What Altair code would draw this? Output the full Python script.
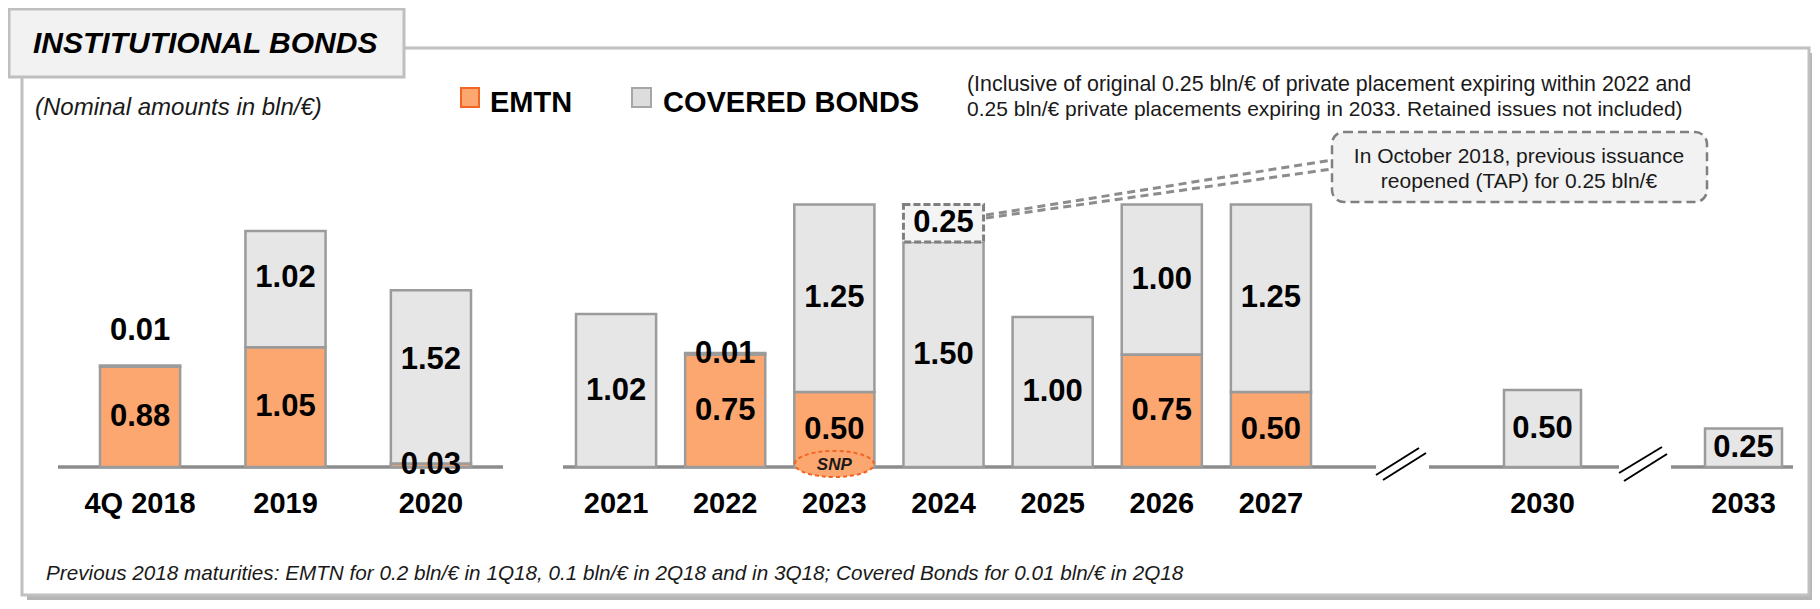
import altair as alt
import pandas as pd

# ---------------- data ----------------
left_years = ["4Q 2018", "2019", "2020"]
left_emtn = [0.88, 1.05, 0.03]
left_covered = [0.01, 1.02, 1.52]

mid_years = ["2021", "2022", "2023", "2024", "2025", "2026", "2027"]
mid_emtn = [0.0, 0.75, 0.50, 0.0, 0.0, 0.75, 0.50]
mid_covered = [1.02, 0.01, 1.25, 1.50, 1.00, 1.00, 1.25]
mid_tap = [0.0, 0.0, 0.0, 0.25, 0.0, 0.0, 0.0]

far_years = ["2030", "2033"]
far_covered = [0.50, 0.25]

snp_years = ["2023"]
snp_labels = ["SNP"]

title_text = "INSTITUTIONAL BONDS"
subtitle_text = "(Nominal amounts in bln/€)"
legend_labels = ["EMTN", "COVERED BONDS"]
note_lines = [
    "(Inclusive of original 0.25 bln/€ of private placement expiring within 2022 and",
    "0.25 bln/€ private placements expiring in 2033. Retained issues not included)",
]
callout_lines = ["In October 2018, previous issuance", "reopened (TAP) for 0.25 bln/€"]
footnote_text = ("Previous 2018 maturities: EMTN for 0.2 bln/€ in 1Q18, 0.1 bln/€ in 2Q18 "
                 "and in 3Q18; Covered Bonds for 0.01 bln/€ in 2Q18")

# ---------------- style ----------------
FONT = "Liberation Sans, Arial, Helvetica, sans-serif"
ORANGE = "#FCA670"
ORANGE_EDGE = "#F26522"
GREY = "#E6E6E6"
BAR_EDGE = "#9B9B9B"
AXIS_GREY = "#8C8C8C"
ONE = pd.DataFrame({"k": [0]})


def long_df(years, emtn=None, covered=None, tap=None):
    rows = []
    for i, y in enumerate(years):
        for t, arr, o in (("EMTN", emtn, 0), ("COVERED", covered, 1), ("TAP", tap, 2)):
            if arr is not None and arr[i] > 0:
                rows.append({"year": y, "type": t, "value": arr[i], "order": o})
    return pd.DataFrame(rows)


def group(df, years, xr, pin, ydom, yr, left=False):
    xs = alt.Scale(type="band", domain=years, range=xr, paddingInner=pin, paddingOuter=0)
    ys = alt.Scale(domain=ydom, range=yr, zero=True, nice=False)
    X = alt.X("year:N", scale=xs, axis=None)
    base = alt.Chart(df).transform_stack(
        stack="value", groupby=["year"], as_=["start", "end"],
        sort=[alt.SortField("order", order="ascending")])
    if left:
        expr = ("datum.value < 0.02 ? datum.end + 0.3 : "
                "(datum.type == 'COVERED' ? datum.start + 0.6 * datum.value : (datum.start + datum.end) / 2)")
    else:
        expr = "(datum.start + datum.end) / 2"
    base = base.transform_calculate(labpos=expr)
    layers = []
    bars = base.transform_filter("datum.type != 'TAP'").mark_bar(
        stroke=BAR_EDGE, strokeWidth=2.5).encode(
        x=X,
        y=alt.Y("start:Q", scale=ys, axis=None),
        y2="end:Q",
        fill=alt.Fill("type:N", scale=alt.Scale(domain=["EMTN", "COVERED"], range=[ORANGE, GREY]),
                      legend=None))
    layers.append(bars)
    if (df["type"] == "TAP").any():
        tap = base.transform_filter("datum.type == 'TAP'").mark_bar(
            fill="#F4F4F4", stroke="#7F7F7F", strokeWidth=3, strokeDash=[7, 3]).encode(
            x=X, y=alt.Y("start:Q", scale=ys, axis=None), y2="end:Q")
        layers.append(tap)
    labels = base.mark_text(font=FONT, fontSize=31, fontWeight="bold", color="#000",
                            baseline="middle", align="center").encode(
        x=X, y=alt.Y("labpos:Q", scale=ys, axis=None),
        text=alt.Text("value:Q", format=".2f"))
    layers.append(labels)
    cats = alt.Chart(pd.DataFrame({"year": years})).mark_text(
        font=FONT, fontSize=29, fontWeight="bold", color="#000",
        baseline="middle", align="center").encode(
        x=X, y=alt.value(496), text="year:N")
    layers.append(cats)
    return layers, X


def rect(x, x2, y, y2, **kw):
    return alt.Chart(ONE).mark_rect(**kw).encode(
        x=alt.value(x), x2=alt.value(x2), y=alt.value(y), y2=alt.value(y2))


def rule(x, y, x2, y2, **kw):
    return alt.Chart(ONE).mark_rule(**kw).encode(
        x=alt.value(x), y=alt.value(y), x2=alt.value(x2), y2=alt.value(y2))


def text(x, y, s, size, weight="normal", style="normal", align="left",
         baseline="middle", color="#000"):
    return alt.Chart(ONE).mark_text(
        text=s, font=FONT, fontSize=size, fontWeight=weight, fontStyle=style,
        align=align, baseline=baseline, color=color).encode(
        x=alt.value(x), y=alt.value(y))


BASE_Y = 459

deco = [
    rect(19, 1806, 45, 593, fill="#B5B5B5"),
    rect(14, 1801, 40, 587, fill="white", stroke="#C0C0C0", strokeWidth=3),
    rect(1, 396, 1, 69, fill="#F2F2F2", stroke="#BFBFBF", strokeWidth=3),
    text(25, 45, title_text, 30, weight="bold", style="italic", baseline="alphabetic"),
    text(27, 107, subtitle_text, 24, style="italic", baseline="alphabetic", color="#1A1A1A"),
    rect(453, 471, 80, 99, fill=ORANGE, stroke=ORANGE_EDGE, strokeWidth=2),
    text(482, 104, legend_labels[0], 29, weight="bold", baseline="alphabetic"),
    rect(624, 643, 80, 99, fill="#DDDDDD", stroke="#A6A6A6", strokeWidth=2),
    text(655, 104, legend_labels[1], 29, weight="bold", baseline="alphabetic"),
    text(959, 77, note_lines[0], 21.4, color="#1A1A1A"),
    text(959, 102, note_lines[1], 21, color="#1A1A1A"),
    rule(978, 207, 1324, 152, color="#8C8C8C", strokeWidth=3, strokeDash=[8, 5]),
    rule(978, 210, 1324, 161, color="#8C8C8C", strokeWidth=3, strokeDash=[8, 5]),
    rect(1324, 1699, 124, 194, fill="#F2F2F2", stroke="#808080", strokeWidth=2.5,
         strokeDash=[9, 5], cornerRadius=12),
    text(1511, 149, callout_lines[0], 21, align="center", color="#1A1A1A"),
    text(1511, 174, callout_lines[1], 21, align="center", color="#1A1A1A"),
    text(38, 566, footnote_text, 20.7, style="italic", color="#1A1A1A"),
    # baselines
    rule(50, BASE_Y, 495, BASE_Y, color=AXIS_GREY, strokeWidth=3.5),
    rule(555, BASE_Y, 1368, BASE_Y, color=AXIS_GREY, strokeWidth=3.5),
    rule(1421, BASE_Y, 1611, BASE_Y, color=AXIS_GREY, strokeWidth=3.5),
    rule(1663, BASE_Y, 1785, BASE_Y, color=AXIS_GREY, strokeWidth=3.5),
    # axis breaks
    rule(1368, 467, 1411, 440, color="#000", strokeWidth=2),
    rule(1375, 472, 1418, 445, color="#000", strokeWidth=2),
    rule(1611, 465, 1654, 439, color="#000", strokeWidth=2),
    rule(1616, 473, 1659, 446, color="#000", strokeWidth=2),
]

left_layers, _ = group(long_df(left_years, emtn=left_emtn, covered=left_covered),
                       left_years, [92, 463], 0.449, [0, 3], [BASE_Y, BASE_Y - 3 * 114], left=True)
mid_layers, XMID = group(long_df(mid_years, emtn=mid_emtn, covered=mid_covered, tap=mid_tap),
                         mid_years, [568, 1303], 0.266, [0, 2], [BASE_Y, BASE_Y - 2 * 150])
far_layers, _ = group(long_df(far_years, covered=far_covered),
                      far_years, [1496, 1774], 0.617, [0, 2], [BASE_Y, BASE_Y - 2 * 154])

snp_df = pd.DataFrame({"year": snp_years, "label": snp_labels})
ellipse = "M -1 0 A 1 0.33 0 1 1 1 0 A 1 0.33 0 1 1 -1 0 Z"
snp_shape = alt.Chart(snp_df).mark_point(
    shape=ellipse, size=79 * 79, filled=True, fill=ORANGE, stroke=ORANGE_EDGE,
    strokeWidth=2, strokeDash=[4, 3], opacity=1).encode(x=XMID, y=alt.value(456))
snp_text = alt.Chart(snp_df).mark_text(
    font=FONT, fontSize=17, fontWeight="bold", fontStyle="italic", color="#1A1A1A",
    baseline="middle", align="center").encode(x=XMID, y=alt.value(457), text="label:N")

chart = alt.layer(
    *deco, *left_layers, *mid_layers, *far_layers, snp_shape, snp_text
).resolve_scale(
    x="independent", y="independent", fill="independent"
).properties(
    width=1804, height=592, padding=0, background="white",
    autosize=alt.AutoSizeParams(type="none"),
).configure_view(stroke=None)

chart.save("out.html", embed_options={"renderer": "svg", "actions": False})
